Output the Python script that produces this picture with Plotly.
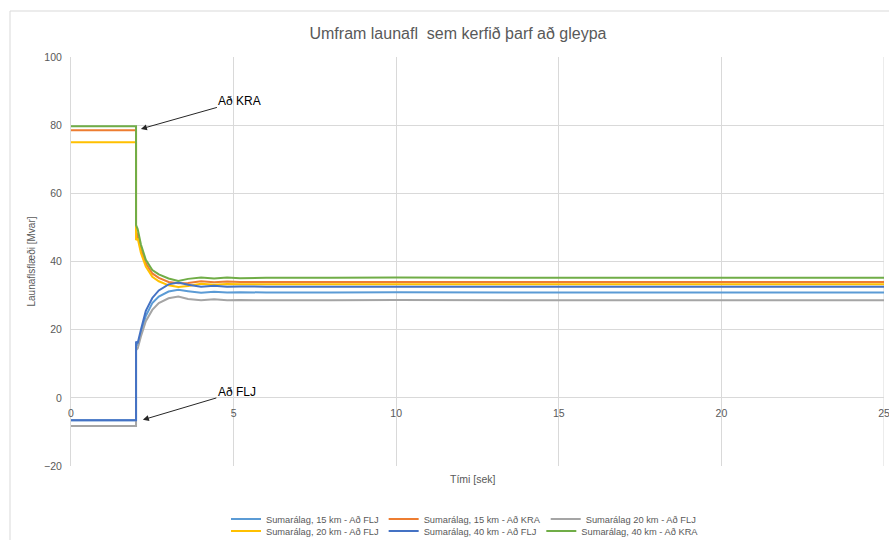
import plotly.graph_objects as go

# Time axis in seconds (switching event at t = 2 s)
time_s = [0, 2.0, 2.0, 2.05, 2.15, 2.3, 2.5, 2.7, 3.0, 3.3, 3.6, 4.0, 4.4, 4.8, 5.2, 6.0, 8.0, 10, 15, 20, 25]

# Reactive power flow [Mvar] per loading case
fli_15 = [-6.6, -6.6, 15.5, 15.5, 19.0, 24.0, 27.8, 29.7, 31.2, 31.7, 31.3, 30.8, 31.1, 30.9, 31.0, 30.9, 30.9, 31.0, 30.9, 30.9, 30.9]
kra_15 = [78.5, 78.5, 49.0, 47.5, 43.5, 39.5, 36.5, 35.2, 34.0, 33.6, 33.7, 34.2, 33.9, 34.1, 34.0, 34.0, 34.0, 34.1, 34.0, 34.0, 34.0]
fli_20_gray = [-8.3, -8.3, 14.0, 14.5, 18.0, 22.5, 25.8, 27.8, 29.2, 29.7, 29.0, 28.6, 28.9, 28.6, 28.7, 28.6, 28.6, 28.7, 28.6, 28.6, 28.6]
fli_20_yellow = [75.0, 75.0, 46.3, 46.8, 42.5, 38.5, 35.5, 34.2, 33.0, 32.5, 32.8, 33.5, 33.2, 33.4, 33.3, 33.3, 33.3, 33.4, 33.3, 33.3, 33.3]
fli_40 = [-6.6, -6.6, 16.5, 16.0, 20.0, 25.5, 29.3, 31.5, 33.3, 33.8, 33.2, 32.6, 32.9, 32.6, 32.7, 32.6, 32.6, 32.6, 32.6, 32.6, 32.6]
kra_40 = [79.7, 79.7, 50.7, 49.5, 45.0, 40.5, 37.5, 36.2, 35.0, 34.3, 34.9, 35.3, 35.0, 35.3, 35.1, 35.2, 35.2, 35.3, 35.2, 35.2, 35.2]

series = [
    ("Sumarálag, 15 km - Að FLJ", fli_15, "#5B9BD5", "legend"),
    ("Sumarálag, 15 km - Að KRA", kra_15, "#ED7D31", "legend"),
    ("Sumarálag 20 km - Að FLJ", fli_20_gray, "#A5A5A5", "legend"),
    ("Sumarálag, 20 km - Að FLJ", fli_20_yellow, "#FFC000", "legend2"),
    ("Sumarálag, 40 km - Að FLJ", fli_40, "#4472C4", "legend2"),
    ("Sumarálag, 40 km - Að KRA", kra_40, "#70AD47", "legend2"),
]

x_ticks = [0, 5, 10, 15, 20, 25]
y_ticks = [-20, 0, 20, 40, 60, 80, 100]

W, H = 889, 540

fig = go.Figure()
for name, vals, color, leg in series:
    fig.add_trace(go.Scatter(
        x=time_s, y=vals, mode="lines", name=name,
        line=dict(color=color, width=2), legend=leg,
    ))

grid = "#D9D9D9"
tick_font = dict(family="Liberation Sans, Arial, sans-serif", size=10.5, color="#595959")
legend_font = dict(family="Liberation Sans, Arial, sans-serif", size=9.3, color="#595959")

fig.update_layout(
    width=W, height=H,
    margin=dict(l=71, r=5, t=57, b=74, autoexpand=False),
    paper_bgcolor="white", plot_bgcolor="white",
    font=dict(family="Liberation Sans, Arial, sans-serif", color="#595959"),
    title=dict(text="Umfram launafl  sem kerfið þarf að gleypa",
               x=458 / W, xanchor="center", y=1 - 33 / H, yanchor="middle",
               font=dict(size=16, color="#595959")),
    xaxis=dict(range=[0, 25], tickvals=x_ticks, showgrid=True, gridcolor=grid,
               gridwidth=1, zeroline=False, showline=False, anchor="free",
               position=1 / 6, ticks="", tickfont=tick_font, automargin=False,
               ticklabeloverflow="allow", ticklabelstandoff=8),
    yaxis=dict(range=[-20, 100], tickvals=y_ticks, showgrid=True, gridcolor=grid,
               gridwidth=1, zeroline=True, zerolinecolor=grid, zerolinewidth=1,
               showline=True, linecolor=grid, linewidth=1, ticks="",
               ticklabelstandoff=6, tickfont=tick_font, automargin=False,
               title=dict(text="Launaflsflæði [Mvar]", font=dict(size=10, color="#595959"),
                          standoff=6)),
    legend=dict(orientation="h", xref="container", x=226 / W, xanchor="left",
                yref="container", y=1 - 519 / H, yanchor="middle", font=legend_font,
                itemwidth=30, bgcolor="rgba(0,0,0,0)", tracegroupgap=0),
    legend2=dict(orientation="h", xref="container", x=226 / W, xanchor="left",
                 yref="container", y=1 - 531 / H, yanchor="middle", font=legend_font,
                 itemwidth=30, bgcolor="rgba(0,0,0,0)", tracegroupgap=0),
    showlegend=True,
)

# Right-edge gridline at t = 25 s
fig.add_shape(type="line", xref="x", yref="paper", x0=25, x1=25, y0=0, y1=1,
              line=dict(color=grid, width=1), layer="below")

# x-axis title below the plot area
fig.add_annotation(text="Tími [sek]", xref="paper", yref="paper",
                   x=(473 - 71) / 813, y=-(479 - 466) / 409, showarrow=False,
                   font=dict(size=10.5, color="#595959"), yanchor="middle")

# Arrow labels for the two directions
arrow_common = dict(showarrow=True, arrowhead=2, arrowsize=1.2, arrowwidth=1,
                    arrowcolor="#262626", font=dict(size=12, color="#000000"))
fig.add_annotation(text="Að KRA", x=2.15, y=78.9, ax=99, ay=-28, **arrow_common)
fig.add_annotation(text="Að FLJ", x=2.21, y=-6.45, ax=94, ay=-28, **arrow_common)

# Chart area border
fig.add_shape(type="rect", xref="paper", yref="paper",
              x0=(10 - 71) / 813, x1=1.2, y0=-0.5, y1=(466 - 11) / 409,
              line=dict(color="#D9D9D9", width=1), fillcolor="rgba(0,0,0,0)",
              layer="below")

fig.write_html("out.html")
